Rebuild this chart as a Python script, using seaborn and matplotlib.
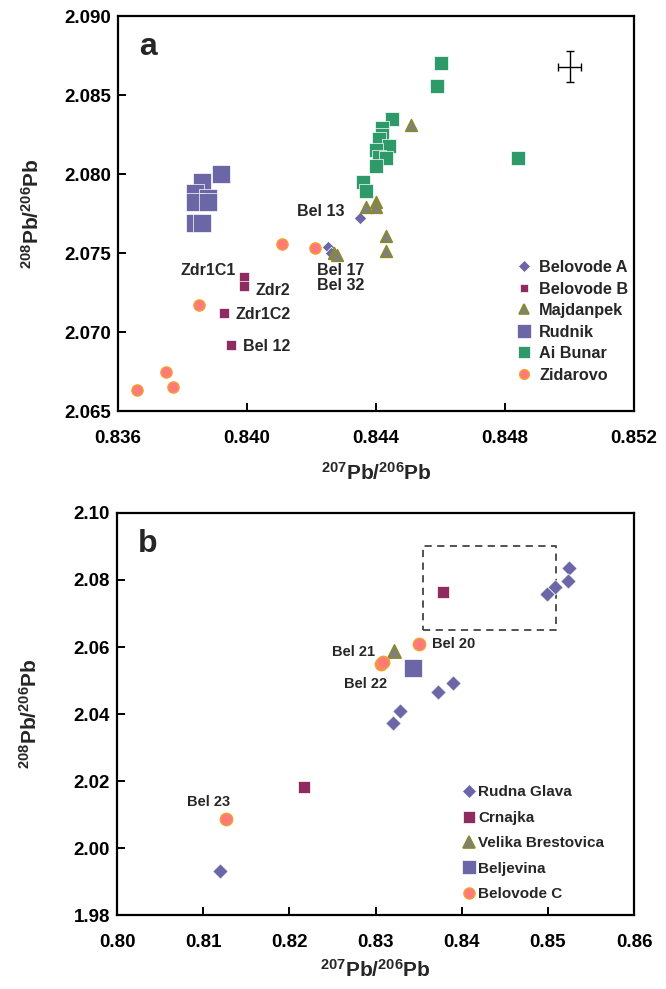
import numpy as np
import pandas as pd
import matplotlib
matplotlib.use("Agg")
import matplotlib.pyplot as plt
import seaborn as sns
from matplotlib.lines import Line2D

# ---------------- panel a data ----------------
belovode_a_x = [0.8435, 0.8425, 0.8426]
belovode_a_y = [2.0772, 2.0754, 2.0750]
belovode_b_x = [0.8399, 0.8399, 0.8393, 0.8395]
belovode_b_y = [2.0735, 2.0729, 2.0712, 2.0692]
majdanpek_x = [0.8451, 0.8437, 0.8440, 0.8440, 0.8443, 0.8443, 0.8427, 0.8428]
majdanpek_y = [2.0831, 2.0779, 2.0782, 2.0779, 2.0761, 2.0751, 2.0750, 2.0749]
rudnik_x = [0.8392, 0.8386, 0.8384, 0.8388, 0.8384, 0.8388, 0.8384, 0.8386]
rudnik_y = [2.0800, 2.0795, 2.0788, 2.0785, 2.0782, 2.0782, 2.0769, 2.0769]
aibunar_x = [0.8460, 0.8459, 0.8445, 0.8442, 0.8442, 0.8441, 0.8444, 0.8440,
             0.8441, 0.8443, 0.8440, 0.8436, 0.8437, 0.8484]
aibunar_y = [2.0870, 2.0856, 2.0835, 2.0829, 2.0825, 2.0822, 2.0818, 2.0815,
             2.0811, 2.0810, 2.0805, 2.0795, 2.0789, 2.0810]
zidarovo_x = [0.8411, 0.8421, 0.8385, 0.8375, 0.8377, 0.8366]
zidarovo_y = [2.0756, 2.0753, 2.0717, 2.0675, 2.0665, 2.0663]

labels_a = ["Bel 13", "Bel 17\nBel 32", "Zdr1C1", "Zdr2", "Zdr1C2", "Bel 12"]
labels_a_xy = [(0.8423, 2.0776), (0.8429, 2.0734), (0.8388, 2.0739),
               (0.8408, 2.0726), (0.8405, 2.0711), (0.8406, 2.0691)]

# analytical uncertainty (2 sigma) cross
err_x, err_y = 0.8500, 2.0868
err_dx, err_dy = 0.00035, 0.0010

# ---------------- panel b data ----------------
rudna_x = [0.8524, 0.8523, 0.8508, 0.8499, 0.8390, 0.8372, 0.8328, 0.8320, 0.8120]
rudna_y = [2.0836, 2.0797, 2.0779, 2.0758, 2.0493, 2.0466, 2.0409, 2.0373, 1.9932]
crnajka_x = [0.8378, 0.8217]
crnajka_y = [2.0764, 2.0182]
velika_x = [0.8321]
velika_y = [2.0587]
beljevina_x = [0.8343]
beljevina_y = [2.0538]
belovode_c_x = [0.8351, 0.8306, 0.8309, 0.8127]
belovode_c_y = [2.0609, 2.0548, 2.0554, 2.0087]

labels_b = ["Bel 20", "Bel 21", "Bel 22", "Bel 23"]
labels_b_xy = [(0.8391, 2.0609), (0.8274, 2.0585), (0.8288, 2.0490), (0.8106, 2.0137)]

box_x = [0.8355, 0.8510]
box_y = [2.065, 2.090]

# ---------------- style ----------------
sns.set_theme(style="ticks")
plt.rcParams["font.family"] = ["Liberation Sans", "DejaVu Sans"]
plt.rcParams["font.weight"] = "bold"
plt.rcParams["mathtext.fontset"] = "custom"
plt.rcParams["mathtext.rm"] = "Liberation Sans:bold"
plt.rcParams["mathtext.bf"] = "Liberation Sans:bold"
plt.rcParams["mathtext.default"] = "bf"

PURPLE = "#6b67a6"
MAROON = "#8e2c62"
GREEN = "#2e9a69"
GREY = "#7f7f7f"
OLIVE = "#8a8a2a"
SALMON = "#ff7a78"
ORANGE = "#f4a030"

fig = plt.figure(figsize=(6.66, 9.89), dpi=100)
ax_a = fig.add_axes([0.1772, 0.5844, 0.7748, 0.3994])
ax_b = fig.add_axes([0.1757, 0.0748, 0.7763, 0.4065])


def draw_group(ax, x, y, label, marker, size, color, edge, lw=0.8):
    df = pd.DataFrame({"x": x, "y": y})
    sns.scatterplot(data=df, x="x", y="y", ax=ax, marker=marker, s=size,
                    color=color, edgecolor=edge, linewidth=lw, legend=False,
                    zorder=3)
    return Line2D([], [], linestyle="", marker=marker, markerfacecolor=color,
                  markeredgecolor=edge, markeredgewidth=lw, label=label)


groups_a = [
    (belovode_a_x, belovode_a_y, "Belovode A", "D", 40, PURPLE, "white", 0.5, 6),
    (belovode_b_x, belovode_b_y, "Belovode B", "s", 45, MAROON, "white", 0.5, 6),
    (majdanpek_x, majdanpek_y, "Majdanpek", "^", 70, GREY, OLIVE, 1.2, 7),
    (rudnik_x, rudnik_y, "Rudnik", "s", 170, PURPLE, "white", 0.5, 10),
    (aibunar_x, aibunar_y, "Ai Bunar", "s", 110, GREEN, "white", 0.5, 9),
    (zidarovo_x, zidarovo_y, "Zidarovo", "o", 65, SALMON, ORANGE, 1.0, 7),
]
handles_a = []
for gx, gy, lab, mk, sz, col, ed, lw, ms in groups_a:
    h = draw_group(ax_a, gx, gy, lab, mk, sz, col, ed, lw)
    h.set_markersize(ms)
    handles_a.append(h)

ax_a.errorbar([err_x], [err_y], xerr=[err_dx], yerr=[err_dy], fmt="none",
              ecolor="black", elinewidth=1, capsize=3, capthick=1)

for txt, (tx, ty) in zip(labels_a, labels_a_xy):
    ax_a.text(tx, ty, txt, ha="center", va="center", fontsize=11.5,
              fontweight="bold", linespacing=1.0)

ax_a.set_xlim(0.836, 0.852)
ax_a.set_ylim(2.065, 2.090)
ax_a.set_xticks(np.arange(0.836, 0.8521, 0.004))
ax_a.set_yticks(np.arange(2.065, 2.0901, 0.005))
ax_a.xaxis.set_major_formatter(matplotlib.ticker.FormatStrFormatter("%.3f"))
ax_a.yaxis.set_major_formatter(matplotlib.ticker.FormatStrFormatter("%.3f"))
ax_a.legend(handles=handles_a, loc="lower right", bbox_to_anchor=(1.017, 0.035),
            frameon=False, handletextpad=0.35, labelspacing=0.4,
            handlelength=1.2, prop={"weight": "bold", "size": 11.7})
ax_a.text(0.04, 0.96, "a", transform=ax_a.transAxes, fontsize=23,
          fontweight="bold", va="top", ha="left")

groups_b = [
    (rudna_x, rudna_y, "Rudna Glava", "D", 60, PURPLE, "white", 0.5, 7),
    (crnajka_x, crnajka_y, "Crnajka", "s", 75, MAROON, "white", 0.5, 8),
    (velika_x, velika_y, "Velika Brestovica", "^", 90, GREY, OLIVE, 1.2, 9),
    (beljevina_x, beljevina_y, "Beljevina", "s", 150, PURPLE, "white", 0.5, 10),
    (belovode_c_x, belovode_c_y, "Belovode C", "o", 80, SALMON, ORANGE, 1.0, 8),
]
handles_b = []
for gx, gy, lab, mk, sz, col, ed, lw, ms in groups_b:
    h = draw_group(ax_b, gx, gy, lab, mk, sz, col, ed, lw)
    h.set_markersize(ms)
    handles_b.append(h)

ax_b.plot([box_x[0], box_x[1], box_x[1], box_x[0], box_x[0]],
          [box_y[0], box_y[0], box_y[1], box_y[1], box_y[0]],
          linestyle=(0, (4, 3)), color="#444444", lw=1.3, zorder=2)

for txt, (tx, ty) in zip(labels_b, labels_b_xy):
    ax_b.text(tx, ty, txt, ha="center", va="center", fontsize=10.5,
              fontweight="bold")

ax_b.set_xlim(0.80, 0.86)
ax_b.set_ylim(1.98, 2.10)
ax_b.set_xticks(np.arange(0.80, 0.8601, 0.01))
ax_b.set_yticks(np.arange(1.98, 2.1001, 0.02))
ax_b.xaxis.set_major_formatter(matplotlib.ticker.FormatStrFormatter("%.2f"))
ax_b.yaxis.set_major_formatter(matplotlib.ticker.FormatStrFormatter("%.2f"))
ax_b.legend(handles=handles_b, loc="lower left", bbox_to_anchor=(0.64, 0.0),
            frameon=False, handletextpad=0.1, labelspacing=0.75,
            handlelength=1.0, prop={"weight": "bold", "size": 11})
ax_b.text(0.04, 0.96, "b", transform=ax_b.transAxes, fontsize=23,
          fontweight="bold", va="top", ha="left")

for ax, ylab_x in ((ax_a, -0.145), (ax_b, -0.147)):
    for sp in ax.spines.values():
        sp.set_visible(True)
        sp.set_color("black")
        sp.set_linewidth(1.6)
    ax.tick_params(direction="in", length=6, width=1.4, colors="black",
                   labelsize=13.5)
    ax.tick_params(axis="x", pad=14)
    ax.tick_params(axis="y", pad=5)
    for t in ax.get_xticklabels() + ax.get_yticklabels():
        t.set_fontweight("bold")
    ax.set_xlabel(r"$^{207}$Pb/$^{206}$Pb", fontsize=15, fontweight="bold")
    ax.set_ylabel(r"$^{208}$Pb/$^{206}$Pb", fontsize=15, fontweight="bold")
    ax.yaxis.set_label_coords(ylab_x, 0.5)

ax_a.xaxis.set_label_coords(0.5, -0.13)
ax_b.xaxis.set_label_coords(0.5, -0.11)

fig.savefig("out.png", dpi=100)
